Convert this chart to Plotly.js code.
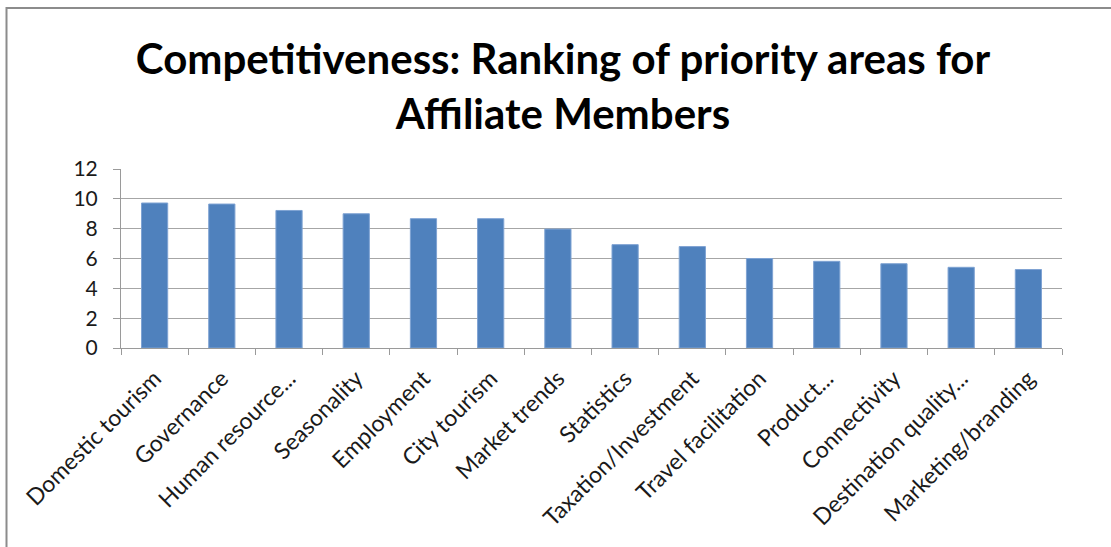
<!DOCTYPE html>
<html>
<head>
<meta charset="utf-8">
<script src="https://cdn.plot.ly/plotly-3.0.1.min.js"></script>
<style>
html, body { margin: 0; padding: 0; background: #ffffff; }
#chart { width: 1111px; height: 547px; }
</style>
</head>
<body>
<div id="chart"></div>
<script>
var categories = [
  "Domestic tourism", "Governance", "Human resource...", "Seasonality",
  "Employment", "City tourism", "Market trends", "Statistics",
  "Taxation/Investment", "Travel facilitation", "Product...",
  "Connectivity", "Destination quality...", "Marketing/branding"
];
var values = [9.72, 9.65, 9.22, 9.0, 8.67, 8.67, 7.97, 6.93, 6.8, 6.0, 5.81, 5.65, 5.41, 5.26];
var yTicks = [0, 2, 4, 6, 8, 10, 12];
var titleText = "Competitiveness: Ranking of priority areas for<br>Affiliate Members";

var W = 1111, H = 547;
var L = 121, R = 1062, T = 169, B = 348;
function px(x) { return (x - L) / (R - L); }
function py(y) { return (B - y) / (B - T); }

var trace = {
  type: "bar",
  x: categories,
  y: values,
  marker: { color: "#4F81BD", line: { color: "#7fa3d3", width: 1 } },
  hoverinfo: "x+y"
};

var layout = {
  width: W, height: H,
  margin: { l: L, r: W - R, t: T, b: H - B, pad: 0 },
  paper_bgcolor: "#ffffff",
  plot_bgcolor: "#ffffff",
  showlegend: false,
  bargap: 0.61,
  font: { family: "Lato, 'Open Sans', sans-serif", color: "#1a1a1a" },
  title: {
    text: titleText,
    font: { family: "Lato, sans-serif", size: 42, color: "#000000", weight: 700 },
    xref: "container", x: 563 / W, xanchor: "center",
    yref: "container", y: 1 - 74 / H, yanchor: "top"
  },
  xaxis: {
    type: "category",
    tickangle: -45,
    tickfont: { size: 23, color: "#1a1a1a" },
    ticklabelstandoff: 7,
    showgrid: false,
    showline: true, linecolor: "#9a9a9a", linewidth: 1,
    ticks: "outside", ticklen: 6, tickcolor: "#9a9a9a",
    tickson: "boundaries",
    automargin: false,
    fixedrange: true
  },
  yaxis: {
    range: [0, 12],
    tickvals: yTicks,
    ticktext: yTicks.map(String),
    tickfont: { size: 21, color: "#1a1a1a" },
    ticklabelstandoff: 11,
    showgrid: true, gridcolor: "#a6a6a6", gridwidth: 1,
    zeroline: false,
    showline: true, linecolor: "#9a9a9a", linewidth: 1,
    ticks: "outside", ticklen: 7, tickcolor: "#9a9a9a",
    automargin: false,
    fixedrange: true
  },
  shapes: [
    {
      type: "rect", xref: "paper", yref: "paper",
      x0: px(6.5), x1: px(1125), y0: py(570), y1: py(8),
      line: { color: "#8c8c8c", width: 2 }, fillcolor: "rgba(0,0,0,0)",
      layer: "below"
    }
  ]
};

Plotly.newPlot("chart", [trace], layout, { displayModeBar: false, staticPlot: true });
</script>
</body>
</html>
